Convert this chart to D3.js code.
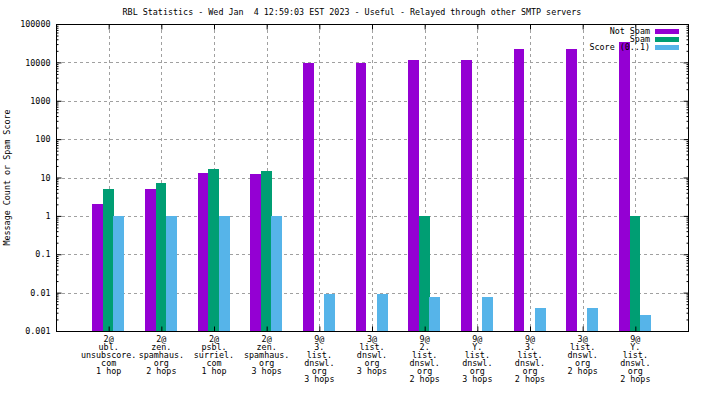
<html>
<head>
  <script src="https://d3js.org/d3.v7.min.js"></script>
  <style>
    body { margin: 0; background: #fff; }
    text { font-family: "DejaVu Sans Mono", monospace; font-size: 8.4px; fill: #000; white-space: pre; }
    .grid line { stroke: #a0a0a0; stroke-dasharray: 3,3; }
  </style>
</head>
<body>
  <svg id="chart" width="704" height="396"></svg>
  <script>
    // data
    const labels = [
      ["2@", "ubl.", "unsubscore.", "com", "1 hop"],
      ["2@", "zen.", "spamhaus.", "org", "2 hops"],
      ["2@", "psbl.", "surriel.", "com", "1 hop"],
      ["2@", "zen.", "spamhaus.", "org", "3 hops"],
      ["9@", "3.", "list.", "dnswl.", "org", "3 hops"],
      ["3@", "list.", "dnswl.", "org", "3 hops"],
      ["9@", "2.", "list.", "dnswl.", "org", "2 hops"],
      ["9@", "Y.", "list.", "dnswl.", "org", "3 hops"],
      ["9@", "3.", "list.", "dnswl.", "org", "2 hops"],
      ["3@", "list.", "dnswl.", "org", "2 hops"],
      ["9@", "Y.", "list.", "dnswl.", "org", "2 hops"]
    ];
    const notSpam = [2, 5, 13, 12, 9600, 9600, 11500, 11500, 22300, 22300, 34000];
    const spam = [5, 7, 16.5, 14.5, 0, 0, 1, 0, 0, 0, 1];
    const score = [1, 1, 1, 1, 0.0094, 0.0094, 0.0078, 0.0078, 0.004, 0.004, 0.0026];
    const seriesNames = ["Not Spam", "Spam", "Score (0..1)"];
    const colors = ["#9400d3", "#009e73", "#56b4e9"];
    const yTicks = [0.001, 0.01, 0.1, 1, 10, 100, 1000, 10000, 100000];
    const title = "RBL Statistics - Wed Jan  4 12:59:03 EST 2023 - Useful - Relayed through other SMTP servers";

    const svg = d3.select('svg#chart');
    const margins = { top: 24, right: 16, bottom: 65, left: 56 };
    const width = 704, height = 396;
    const chartWidth = width - margins.left - margins.right;
    const chartHeight = height - margins.top - margins.bottom;

    const x = d3.scaleLinear().domain([0, labels.length + 1]).range([margins.left, margins.left + chartWidth]);
    const y = d3.scaleLog().domain([0.001, 100000]).range([margins.top + chartHeight, margins.top]);
    const idx = d3.range(1, labels.length + 1);

    // gridlines
    const grid = svg.append("g").attr("class", "grid");
    grid.selectAll("line.h").data(yTicks.slice(1, -1)).join("line")
      .attr("x1", margins.left).attr("x2", margins.left + chartWidth)
      .attr("y1", d => Math.round(y(d)) + 0.5).attr("y2", d => Math.round(y(d)) + 0.5);
    grid.selectAll("line.v").data(idx).join("line")
      .attr("x1", d => Math.round(x(d)) + 0.5).attr("x2", d => Math.round(x(d)) + 0.5)
      .attr("y1", margins.top).attr("y2", margins.top + chartHeight);

    // bars
    const series = [notSpam, spam, score];
    const offsets = [-0.31, -0.11, 0.09];
    const bw = 0.205;
    series.forEach((vals, s) => {
      svg.append("g").selectAll("rect")
        .data(vals.map((v, i) => ({ i: i + 1, v })).filter(d => d.v > 0))
        .join("rect")
        .attr("x", d => Math.round(x(d.i + offsets[s])))
        .attr("width", d => Math.round(x(d.i + offsets[s] + bw)) - Math.round(x(d.i + offsets[s])))
        .attr("y", d => Math.round(y(d.v)))
        .attr("height", d => y(0.001) - Math.round(y(d.v)))
        .attr("fill", colors[s]);
    });

    // axes
    const minorTicks = y.ticks(80).filter(d => !yTicks.includes(d));
    const leftAxis = d3.axisLeft(y).tickValues(yTicks).tickFormat(d3.format("~g")).tickSize(-5).tickPadding(6);
    const leftMinor = d3.axisLeft(y).tickValues(minorTicks).tickFormat("").tickSize(-2);
    const rightAxis = d3.axisRight(y).tickValues(yTicks).tickFormat("").tickSize(-5);
    const rightMinor = d3.axisRight(y).tickValues(minorTicks).tickFormat("").tickSize(-2);
    const bottomAxis = d3.axisBottom(x).tickValues(idx).tickFormat("").tickSize(-5);
    const topAxis = d3.axisTop(x).tickValues(idx).tickFormat("").tickSize(-5);

    const ax = svg.append("g");
    ax.append("g").attr("transform", `translate(${margins.left + 0.5},0)`).call(leftAxis);
    ax.append("g").attr("transform", `translate(${margins.left + 0.5},0)`).call(leftMinor);
    ax.append("g").attr("transform", `translate(${margins.left + chartWidth + 0.5},0)`).call(rightAxis);
    ax.append("g").attr("transform", `translate(${margins.left + chartWidth + 0.5},0)`).call(rightMinor);
    ax.append("g").attr("transform", `translate(0,${margins.top + chartHeight + 0.5})`).call(bottomAxis);
    ax.append("g").attr("transform", `translate(0,${margins.top + 0.5})`).call(topAxis);
    ax.selectAll(".domain").remove();
    ax.selectAll("line").attr("stroke", "#000");
    ax.selectAll("text").style("font-family", "DejaVu Sans Mono").style("font-size", "8.4px").attr("fill", "#000");

    // border
    svg.append("rect")
      .attr("x", margins.left + 0.5).attr("y", margins.top + 0.5)
      .attr("width", chartWidth).attr("height", chartHeight)
      .attr("fill", "none").attr("stroke", "#000");

    // x labels
    const xl = svg.append("g");
    labels.forEach((lines, i) => {
      const t = xl.append("text").attr("text-anchor", "middle")
        .attr("x", x(i + 1)).attr("y", margins.top + chartHeight + 11);
      lines.forEach((ln, k) => t.append("tspan").attr("x", x(i + 1)).attr("dy", k ? 8 : 0).text(ln));
    });

    // title and y label
    svg.append("text").attr("x", width / 2).attr("y", 15).attr("text-anchor", "middle").text(title);
    svg.append("text").attr("text-anchor", "middle")
      .attr("transform", `translate(10,${margins.top + chartHeight / 2}) rotate(-90)`)
      .text("Message Count or Spam Score");

    // legend
    const legend = svg.append("g").attr("transform", "translate(650,29)");
    seriesNames.forEach((n, i) => {
      legend.append("text").attr("x", 0).attr("y", i * 8 + 5).attr("text-anchor", "end").text(n);
      legend.append("rect").attr("x", 5).attr("y", i * 8).attr("width", 24).attr("height", 5).attr("fill", colors[i]);
    });
  </script>
</body>
</html>
